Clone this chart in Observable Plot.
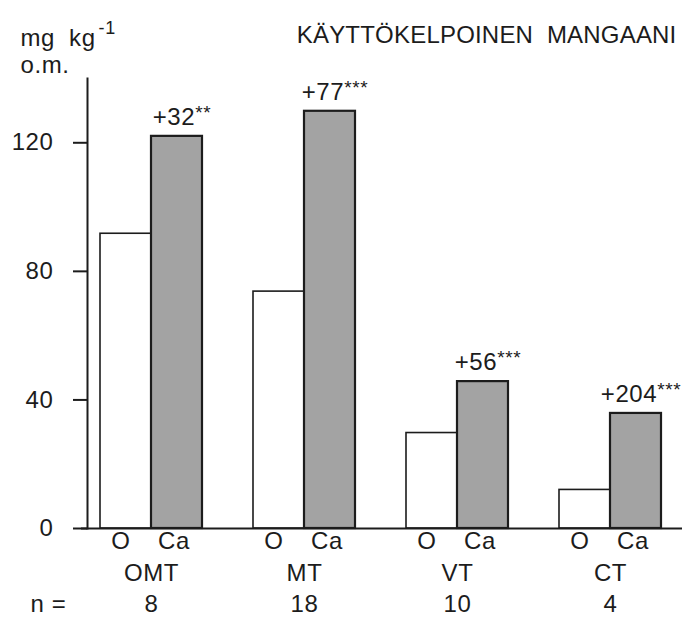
<!DOCTYPE html>
<html>
<head>
<meta charset="utf-8">
<script src="https://cdn.jsdelivr.net/npm/d3@7"></script>
<script src="https://cdn.jsdelivr.net/npm/@observablehq/plot@0.6"></script>
<style>
  html, body { margin: 0; padding: 0; background: #fff; }
  #chart svg { display: block; }
</style>
</head>
<body>
<div id="chart"></div>
<script>
// ---- data ----
const groups = ["OMT", "MT", "VT", "CT"];
const treatments = ["O", "Ca"];
const oValues = [91.7, 73.7, 29.7, 12.0];
const caValues = [122, 129.8, 45.7, 35.8];
const changeLabels = ["+32", "+77", "+56", "+204"];
const significance = ["**", "***", "***", "***"];
const nValues = ["8", "18", "10", "4"];
const yTicks = [0, 40, 80, 120];
const titleText = "KÄYTTÖKELPOINEN MANGAANI";
const unitText = "mg kg-1";
const unitText2 = "o.m.";

// ---- tables ----
const rows = [];
groups.forEach((g, i) => {
  rows.push({group: g, treatment: "O", value: oValues[i]});
  rows.push({group: g, treatment: "Ca", value: caValues[i]});
});
const oRows = rows.filter(d => d.treatment === "O");
const caRows = rows.filter(d => d.treatment === "Ca");
const annot = groups.map((g, i) => ({group: g, value: caValues[i], label: changeLabels[i] + significance[i]}));
const nRows = groups.map((g, i) => ({group: g, n: nValues[i]}));

const W = 686, H = 626;
const mL = 87, mR = 4, mT = 78, mB = 98;
const xOpts = {type: "band", domain: groups, range: [mL, W - mR], paddingInner: 1/3, paddingOuter: 1/9, align: 0.38};
const bw = Plot.scale({x: xOpts}).bandwidth;
const half = bw / 2;
const font = "'Liberation Sans', Arial, Helvetica, sans-serif";
const ink = "#1c1c1c";
const fs = 24;

const plot = Plot.plot({
  width: W, height: H,
  marginLeft: mL, marginRight: mR, marginTop: mT, marginBottom: mB,
  style: {fontFamily: font, fontSize: fs + "px", color: ink, background: "#fff", letterSpacing: "0.6px"},
  x: {...xOpts, axis: null},
  y: {domain: [0, 140], axis: null},
  marks: [
    Plot.barY(oRows, {x: "group", y: "value", insetRight: half, fill: "#fff", stroke: ink, strokeWidth: 1.6}),
    Plot.barY(caRows, {x: "group", y: "value", insetLeft: half, fill: "#a3a3a3", stroke: ink, strokeWidth: 2.2}),
    Plot.frame({anchor: "left", stroke: ink, strokeWidth: 2}),
    Plot.ruleY([0], {stroke: ink, strokeWidth: 2, insetLeft: -6}),
    Plot.axisY({ticks: yTicks, tickSize: 14, tickPadding: 20, label: null, stroke: ink, strokeWidth: 2, fontSize: fs}),
    Plot.text(annot, {x: "group", y: "value", text: "label", dx: half / 2 + 5, dy: -19, fill: ink, fontSize: fs}),
    // treatment labels under bars
    Plot.text(groups, {x: d => d, text: () => treatments[0], frameAnchor: "bottom", dx: -half / 2 - 5, dy: 20, fill: ink, fontSize: fs}),
    Plot.text(groups, {x: d => d, text: () => treatments[1], frameAnchor: "bottom", dx: half / 2 - 3, dy: 20, fill: ink, fontSize: fs}),
    Plot.text(groups, {x: d => d, text: d => d, frameAnchor: "bottom", dy: 52, fill: ink, fontSize: fs}),
    Plot.text(nRows, {x: "group", text: "n", frameAnchor: "bottom", dy: 83, fill: ink, fontSize: fs}),
    Plot.text(["n ="], {frameAnchor: "bottom-left", textAnchor: "start", dx: -57, dy: 83, fill: ink, fontSize: fs}),
    Plot.text([unitText], {frameAnchor: "top-left", textAnchor: "start", dx: -67, dy: -50, fill: ink, fontSize: fs}),
    Plot.text([unitText2], {frameAnchor: "top-left", textAnchor: "start", dx: -67, dy: -23, fill: ink, fontSize: fs}),
    Plot.text([titleText], {frameAnchor: "top-right", textAnchor: "end", dx: -6, dy: -53, fill: ink, fontSize: fs})
  ]
});

// superscripts as tspans
d3.select(plot).selectAll("text").each(function () {
  const t = this.textContent;
  const sel = d3.select(this);
  let m = t.match(/^(\+\d+)(\*+)$/);
  if (m) {
    sel.text(null);
    sel.append("tspan").text(m[1]);
    sel.append("tspan").attr("font-size", 19).attr("dy", -6).text(m[2]);
    return;
  }
  if (t === unitText) {
    sel.text(null);
    sel.append("tspan").text("mg");
    sel.append("tspan").attr("dx", 14).text("kg");
    sel.append("tspan").attr("font-size", 18).attr("dx", 3).attr("dy", -12).text("-1");
    return;
  }
  if (t === titleText) {
    sel.style("white-space", "pre").style("letter-spacing", "0.2px").text("KÄYTTÖKELPOINEN  MANGAANI");
  }
});

document.getElementById("chart").appendChild(plot);
</script>
</body>
</html>
